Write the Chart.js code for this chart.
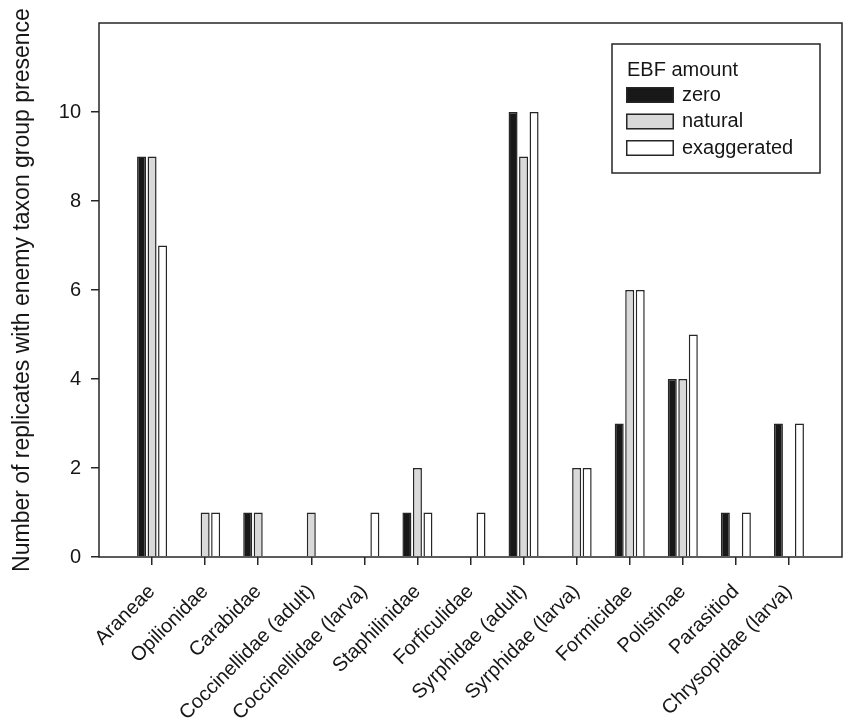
<!DOCTYPE html>
<html>
<head>
<meta charset="utf-8">
<script src="https://cdn.jsdelivr.net/npm/chart.js@4"></script>
<style>
  html, body { margin: 0; padding: 0; background: #fff; }
  #wrap { width: 843px; height: 722px; }
</style>
</head>
<body>
<div id="wrap"><canvas id="c" width="843" height="722"></canvas></div>
<script>
// Enemy taxon groups on the x axis
const categories = [
  'Araneae', 'Opilionidae', 'Carabidae', 'Coccinellidae (adult)',
  'Coccinellidae (larva)', 'Staphilinidae', 'Forficulidae',
  'Syrphidae (adult)', 'Syrphidae (larva)', 'Formicidae',
  'Polistinae', 'Parasitiod', 'Chrysopidae (larva)'
];
// Number of replicates per EBF amount
const zero        = [9, 0, 1, 0, 0, 1, 0, 10, 0, 3, 4, 1, 3];
const natural     = [9, 1, 1, 1, 0, 2, 0, 9, 2, 6, 4, 0, 0];
const exaggerated = [7, 1, 0, 0, 1, 1, 1, 10, 2, 6, 5, 1, 3];
const seriesNames = ['zero', 'natural', 'exaggerated'];
const yTicks = [0, 2, 4, 6, 8, 10];
const yMax = 12;
const legendTitle = 'EBF amount';
const yTitle = 'Number of replicates with enemy taxon group presence';

const FONT = "'Liberation Sans', Arial, Helvetica, sans-serif";
const INK = '#161616';
const LINE = '#262626';
Chart.defaults.font.family = FONT;
Chart.defaults.color = INK;

// one empty slot on each side of the groups
const labels = ['', ...categories, ''];
const pad = v => [null, ...v, null];

// plot frame on all four sides
const frame = {
  id: 'frame',
  afterDatasetsDraw(chart) {
    const { ctx, chartArea: a } = chart;
    ctx.save();
    ctx.strokeStyle = LINE;
    ctx.lineWidth = 1.5;
    ctx.strokeRect(a.left, a.top, a.right - a.left, a.bottom - a.top);
    ctx.restore();
  }
};

// boxed legend in the upper right of the plot
const boxLegend = {
  id: 'boxLegend',
  afterDraw(chart) {
    const { ctx, chartArea: a } = chart;
    const w = 208, h = 129;
    const x = a.right - 22 - w;
    const y = a.top + 21;
    ctx.save();
    ctx.fillStyle = '#fff';
    ctx.fillRect(x, y, w, h);
    ctx.strokeStyle = LINE;
    ctx.lineWidth = 1.5;
    ctx.strokeRect(x, y, w, h);
    ctx.font = '20px ' + FONT;
    ctx.textBaseline = 'middle';
    ctx.textAlign = 'left';
    ctx.fillStyle = INK;
    ctx.fillText(legendTitle, x + 15, y + 26);
    chart.data.datasets.forEach((ds, i) => {
      const ry = y + 43 + i * 26.5;
      ctx.fillStyle = ds.backgroundColor;
      ctx.fillRect(x + 14, ry, 48, 16);
      ctx.strokeStyle = ds.borderColor;
      ctx.lineWidth = 1.5;
      ctx.strokeRect(x + 14.75, ry + 0.75, 46.5, 14.5);
      ctx.fillStyle = INK;
      ctx.fillText(ds.label, x + 70, ry + 8);
    });
    ctx.restore();
  }
};

const barStyle = {
  borderColor: LINE,
  borderWidth: 1.5,
  borderSkipped: 'start',
  categoryPercentage: 0.594,
  barPercentage: 0.857
};

new Chart(document.getElementById('c'), {
  type: 'bar',
  data: {
    labels,
    datasets: [
      { label: seriesNames[0], data: pad(zero), backgroundColor: '#181818', ...barStyle },
      { label: seriesNames[1], data: pad(natural), backgroundColor: '#d9d9d9', ...barStyle },
      { label: seriesNames[2], data: pad(exaggerated), backgroundColor: '#ffffff', ...barStyle }
    ]
  },
  options: {
    responsive: false,
    animation: false,
    devicePixelRatio: 1,
    layout: { padding: { top: 23, right: 1, left: 0, bottom: 0 } },
    plugins: { legend: { display: false }, tooltip: { enabled: false } },
    scales: {
      x: {
        offset: false,
        border: { display: false },
        grid: {
          offset: false,
          drawOnChartArea: false,
          tickLength: 8,
          lineWidth: 1.5,
          color: c => (c.index === 0 || c.index === labels.length - 1) ? 'rgba(0,0,0,0)' : LINE
        },
        ticks: {
          autoSkip: false,
          minRotation: 45,
          maxRotation: 45,
          padding: 15,
          color: INK,
          font: { size: 20 }
        },
        afterFit: s => {
          s.height = 165;
          s.paddingLeft = 0;
          s.paddingRight = 0;
        }
      },
      y: {
        min: 0,
        max: yMax,
        border: { display: false },
        afterBuildTicks: s => { s.ticks = yTicks.map(v => ({ value: v })); },
        grid: { drawOnChartArea: false, tickLength: 8, lineWidth: 1.5, color: LINE },
        ticks: { padding: 10, color: INK, font: { size: 20 } },
        title: {
          display: true,
          text: yTitle,
          color: INK,
          font: { size: 23 },
          padding: { top: 9, bottom: 0 }
        },
        afterFit: s => { s.width = 99; }
      }
    }
  },
  plugins: [frame, boxLegend]
});
</script>
</body>
</html>
